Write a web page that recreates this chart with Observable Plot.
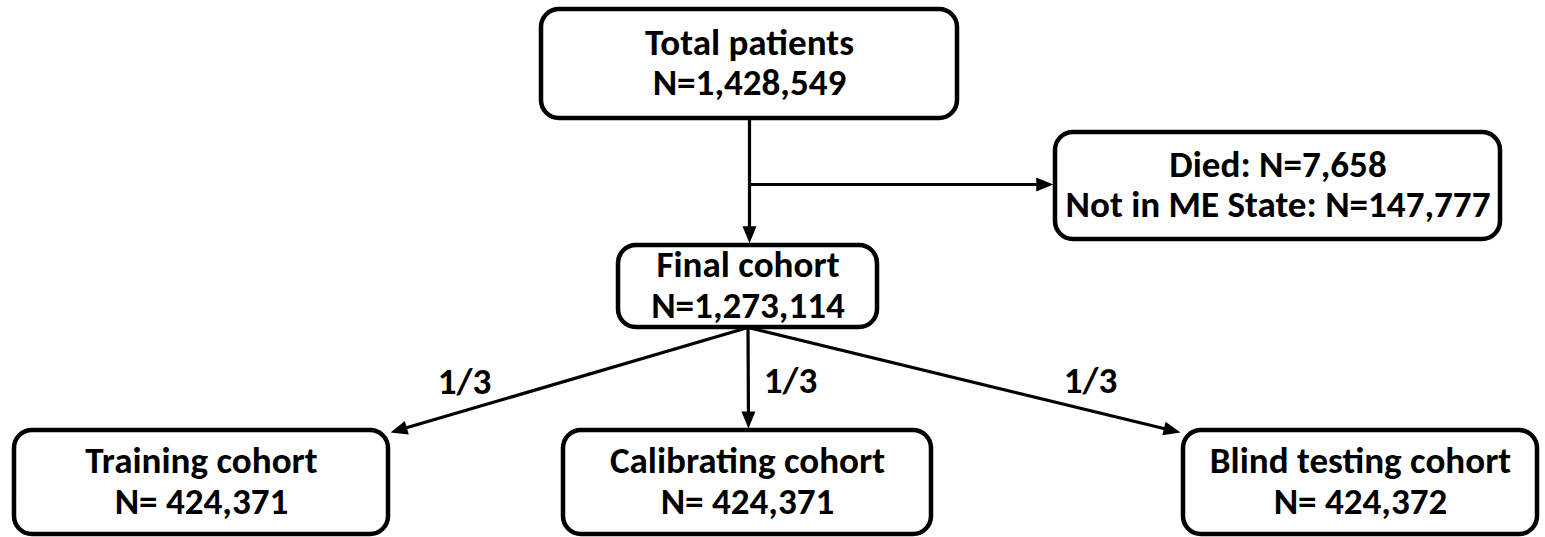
<!DOCTYPE html>
<html><head><meta charset="utf-8">
<script src="https://cdn.jsdelivr.net/npm/d3@7"></script>
<script src="https://cdn.jsdelivr.net/npm/@observablehq/plot@0.6"></script>
<style>html,body{margin:0;padding:0;background:#fff;overflow:hidden}</style>
</head><body><div id="chart"></div>
<script>
// ---- data ----
const stageLabels = ["Total patients", "Final cohort", "Training cohort", "Calibrating cohort", "Blind testing cohort"];
const stageCounts = [1428549, 1273114, 424371, 424371, 424372];
const countPrefix = ["N=", "N=", "N= ", "N= ", "N= "];
const exclusionLabels = ["Died", "Not in ME State"];
const exclusionCounts = [7658, 147777];
const splitLabels = ["1/3", "1/3", "1/3"];

// ---- layout (pixels) ----
const W = 1545, H = 537;
const stageBoxes = [
  [541, 957, 9, 118],
  [618, 877, 245, 327],
  [14, 388, 430, 534],
  [563, 931, 430, 534],
  [1183, 1537, 430, 534]
];
const exclusionBox = [1055, 1500, 132, 239];
const branchY = 184;
const splitLabelPos = [[464, 382], [790, 381], [1090, 381]];
const splitTargets = [[390, 432], [748, 428], [1180, 432]];
const fontFamily = "Carlito, Lato, sans-serif";
const boxStroke = 4.5, lineStroke = 3.2, headLen = 17, headHalf = 7;

// font size fitted so text widths match the reference
const ctx = document.createElement("canvas").getContext("2d");
ctx.font = `bold 100px ${fontFamily}`;
const probes = [["Not in ME State: N=147,777", 430], ["Training cohort", 233], ["Total patients", 205], ["Blind testing cohort", 300]];
const fontSize = 100 * d3.sum(probes, p => p[1]) / d3.sum(probes, p => ctx.measureText(p[0]).width);

const fmt = d3.format(",");
const boxes = stageLabels.map((s, i) => ({
  x1: stageBoxes[i][0], x2: stageBoxes[i][1], y1: stageBoxes[i][2], y2: stageBoxes[i][3],
  text: `${s}\n${countPrefix[i]}${fmt(stageCounts[i])}`
}));
boxes.push({
  x1: exclusionBox[0], x2: exclusionBox[1], y1: exclusionBox[2], y2: exclusionBox[3],
  text: exclusionLabels.map((l, i) => `${l}: N=${fmt(exclusionCounts[i])}`).join("\n")
});

const cx = (b) => (b.x1 + b.x2) / 2;
const total = boxes[0], fin = boxes[1], excl = boxes[5];
const edge = boxStroke / 2;
// arrows: from start to tip
const arrows = [
  {x1: cx(total), y1: total.y2, x2: cx(total), y2: fin.y1 - edge},
  {x1: cx(total), y1: branchY, x2: excl.x1 - edge, y2: branchY},
  ...splitTargets.map(t => ({x1: cx(fin), y1: fin.y2, x2: t[0], y2: t[1]}))
];
const links = arrows.map(a => {
  const dx = a.x2 - a.x1, dy = a.y2 - a.y1, L = Math.hypot(dx, dy);
  return {x1: a.x1, y1: a.y1, x2: a.x2 - dx / L * (headLen - 4), y2: a.y2 - dy / L * (headLen - 4)};
});
const heads = arrows.map(a => ({x: a.x2, y: a.y2, angle: Math.atan2(a.x2 - a.x1, -(a.y2 - a.y1)) * 180 / Math.PI}));
const triangle = {draw(c, l) { c.moveTo(0, -l); c.lineTo(-headHalf, 0); c.lineTo(headHalf, 0); c.closePath(); }};

const splits = splitLabels.map((s, i) => ({x: splitLabelPos[i][0], y: splitLabelPos[i][1], text: s}));

const chart = Plot.plot({
  width: W, height: H, margin: 0,
  style: {background: "white", fontFamily},
  x: {domain: [0, W], range: [0, W], axis: null},
  y: {domain: [0, H], range: [0, H], axis: null},
  marks: [
    Plot.rect(boxes, {x1: "x1", x2: "x2", y1: "y1", y2: "y2", rx: 18, fill: "white", stroke: "black", strokeWidth: boxStroke}),
    Plot.link(links, {x1: "x1", y1: "y1", x2: "x2", y2: "y2", stroke: "black", strokeWidth: lineStroke}),
    Plot.vector(heads, {x: "x", y: "y", rotate: "angle", length: headLen, anchor: "end", shape: triangle, fill: "black", stroke: "none"}),
    Plot.text(boxes, {x: cx, y: d => (d.y1 + d.y2) / 2 - 2, text: "text", fontSize, fontWeight: "bold", fontFamily, lineHeight: 1.1, fill: "black"}),
    Plot.text(splits, {x: "x", y: "y", text: "text", fontSize, fontWeight: "bold", fontFamily, fill: "black"})
  ]
});
document.getElementById("chart").appendChild(chart);
</script>
</body></html>
